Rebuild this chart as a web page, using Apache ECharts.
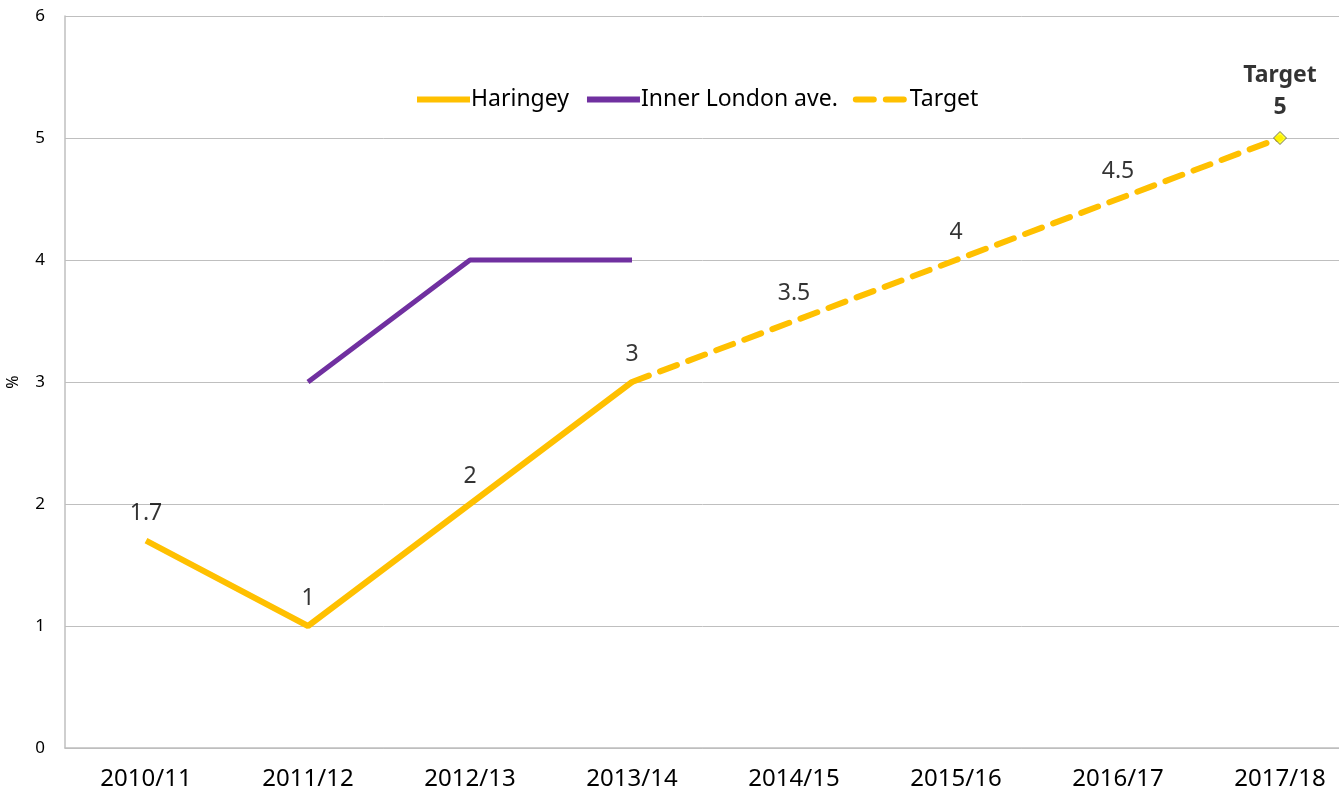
<!DOCTYPE html>
<html>
<head>
<meta charset="utf-8">
<script src="https://cdn.jsdelivr.net/npm/echarts@6/dist/echarts.min.js"></script>
<style>
  html, body { margin: 0; padding: 0; background: #fff; }
  #chart { width: 1339px; height: 793px; }
</style>
</head>
<body>
<div id="chart"></div>
<script>
const years = ['2010/11', '2011/12', '2012/13', '2013/14', '2014/15', '2015/16', '2016/17', '2017/18'];
const haringey = [1.7, 1, 2, 3, null, null, null, null];
const innerLondon = [null, 3, 4, 4, null, null, null, null];
const target = [null, null, null, 3, 3.5, 4, 4.5, 5];
const yTicks = [0, 1, 2, 3, 4, 5, 6];

const font = 'Noto Sans, sans-serif';
const chart = echarts.init(document.getElementById('chart'));

// value labels: Haringey points plus target points after 2013/14,
// the final one shown as a bold "Target 5"
const last = target.length - 1;
const labelData = years.map((y, i) => {
  if (haringey[i] !== null) return haringey[i];
  if (target[i] === null) return null;
  if (i === last) {
    return { value: target[i], label: { formatter: 'Target\n{c}', fontWeight: 'bold', lineHeight: 32, distance: 14 } };
  }
  return target[i];
});

chart.setOption({
  animation: false,
  textStyle: { fontFamily: font },
  grid: { left: 65, top: 16, width: 1296, height: 732, outerBoundsMode: 'none', containLabel: false },
  legend: {
    data: ['Haringey', 'Inner London ave.', 'Target'],
    left: 409, top: 83,
    itemWidth: 53, itemHeight: 14, itemGap: 15,
    itemStyle: { opacity: 0 },
    lineStyle: { width: 6 },
    textStyle: { fontSize: 23, color: '#000', fontFamily: font, padding: [0, 0, 0, -4] }
  },
  xAxis: {
    type: 'category',
    data: years,
    boundaryGap: true,
    axisLine: { lineStyle: { color: '#bfbfbf', width: 1.5 } },
    axisTick: { show: false },
    axisLabel: { fontSize: 24, color: '#000', margin: 19 }
  },
  yAxis: {
    type: 'value',
    min: yTicks[0], max: yTicks[yTicks.length - 1], interval: 1,
    name: '%', nameLocation: 'middle', nameGap: 44, nameRotate: 90,
    nameTextStyle: { fontSize: 16, color: '#000' },
    axisLine: { show: true, lineStyle: { color: '#bfbfbf', width: 1.5 } },
    axisTick: { show: false },
    axisLabel: { fontSize: 17, color: '#000', margin: 20 },
    splitLine: { lineStyle: { color: '#bfbfbf', width: 1 } }
  },
  series: [
    {
      name: 'Haringey', type: 'line', data: haringey,
      symbol: 'none',
      itemStyle: { color: '#FFC000' },
      lineStyle: { color: '#FFC000', width: 6 },
      z: 3
    },
    {
      name: 'Inner London ave.', type: 'line', data: innerLondon,
      symbol: 'none',
      itemStyle: { color: '#7030A0' },
      lineStyle: { color: '#7030A0', width: 5 },
      z: 2
    },
    {
      name: 'Target', type: 'line', data: target,
      symbol: 'none',
      itemStyle: { color: '#FFC000' },
      lineStyle: { color: '#FFC000', width: 6, type: [18, 12], cap: 'round' },
      z: 3
    },
    {
      name: 'Target point', type: 'scatter',
      data: target.map((v, i) => (i === last ? v : null)),
      symbol: 'diamond', symbolSize: 13,
      itemStyle: { color: '#FFFF00', borderColor: '#555', borderWidth: 1 },
      z: 4
    },
    {
      name: 'labels', type: 'scatter',
      data: labelData,
      symbol: 'circle', symbolSize: 2,
      itemStyle: { color: 'transparent' },
      label: { show: true, position: 'top', distance: 15, fontSize: 23, color: '#000' },
      emphasis: { disabled: true },
      z: 5
    }
  ]
});
</script>
</body>
</html>
